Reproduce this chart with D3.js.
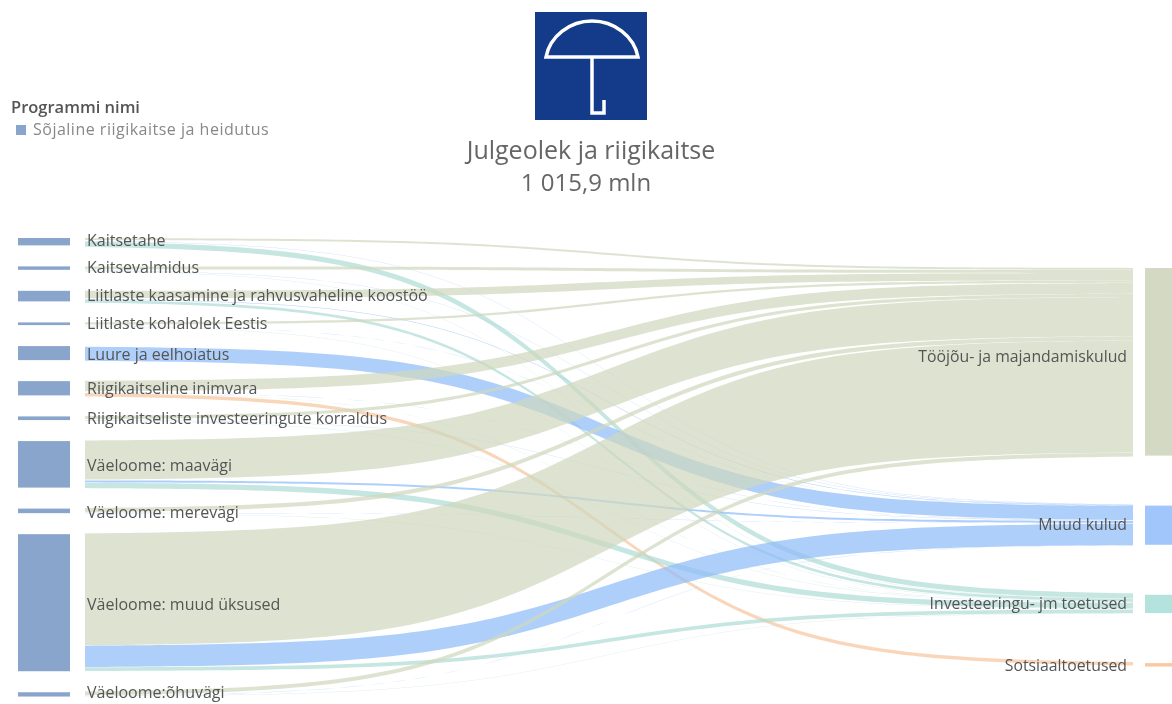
<!DOCTYPE html>
<html>
<head>
<meta charset="utf-8">
<script src="https://cdn.jsdelivr.net/npm/d3@7"></script>
<style>
  html, body { margin: 0; background: #fff; overflow: hidden; }
  text { font-family: "Open Sans", Lato, sans-serif; }
  svg { filter: blur(0.5px); }
</style>
</head>
<body>
<div id="chart"></div>
<script>
const width = 1172
const height = 704

// programmes (left side), top to bottom
const programmes = [
  "Kaitsetahe", "Kaitsevalmidus", "Liitlaste kaasamine ja rahvusvaheline koostöö",
  "Liitlaste kohalolek Eestis", "Luure ja eelhoiatus", "Riigikaitseline inimvara",
  "Riigikaitseliste investeeringute korraldus", "Väeloome: maavägi",
  "Väeloome: merevägi", "Väeloome: muud üksused", "Väeloome:õhuvägi"
]

// cost types (right side)
const costTypes = ["Tööjõu- ja majandamiskulud", "Muud kulud", "Investeeringu- jm toetused", "Sotsiaaltoetused"]

// mln per programme, same order as programmes
const tooloju = [8, 12, 30, 9.4, 0, 43, 13, 159, 17, 455, 16]
const muudKulud = [1, 1, 2, 0.5, 57, 0.5, 1, 8, 0.6, 87, 0.5]
const toetused = [21, 1, 11, 1, 0, 0.5, 1, 22, 1, 15, 1]
const sotsiaal = [0, 0, 0, 0, 0, 14, 0, 0, 0, 0, 0]
const costValues = [tooloju, muudKulud, toetused, sotsiaal]

const total = 1015.9
const legendTitle = "Programmi nimi"
const legendItem = "Sõjaline riigikaitse ja heidutus"
const title = "Julgeolek ja riigikaitse"
const subtitle = "1 015,9 mln"

const linkColors = ["#ced7bc", "#8dbaf9", "#aedbd4", "#f7c49d"]
const nodeColors = ["#d3d9c3", "#a0c6fb", "#b4e2dc", "#f8c9a2"]
const drawOrder = [3, 2, 1, 0]

// small label shifts, px
const leftNudge = [-1, -1, -1, 0, 1, 0, 0, 1, 2, 2, -1.5]
const rightNudge = [-5, -1, 0, 1]

const h = d3.scaleLinear().domain([0, total]).range([0, 250])
const leftPad = 21
const rightPad = 50
const linkX = d3.scaleLinear().domain([0, 1]).range([85, 1133])

const svg = d3.select("#chart").append("svg")
  .attr("width", width)
  .attr("height", height)
  .style("display", "block")

// stack the nodes with a fixed padding
let y = 238
const leftNodes = programmes.map((name, i) => {
  let value = d3.sum(costValues, c => c[i])
  let node = {name, value, y0: y, y1: y + h(value), index: i}
  y = node.y1 + leftPad
  return node
})

y = 268
const rightNodes = costTypes.map((name, j) => {
  let value = d3.sum(costValues[j])
  let node = {name, value, y0: y, y1: y + h(value), index: j}
  y = node.y1 + rightPad
  return node
})

// link offsets: inside a programme by cost type, inside a cost type by programme
let links = []
let leftUsed = leftNodes.map(d => d.y0)
rightNodes.forEach((target, j) => {
  let used = target.y0
  programmes.forEach((p, i) => {
    let value = costValues[j][i]
    if (value > 0) {
      links.push({cost: j, source: i, thick: h(value), a: leftUsed[i], b: used})
      leftUsed[i] += h(value)
      used += h(value)
    }
  })
})

// tableau style sigmoid between both ends
const sigmoid = t => 1 / (1 + Math.exp(-11 * (t - 0.5)))
const steps = d3.range(0, 1.0001, 0.01)

const ribbon = l => d3.area()
  .x(t => linkX(t))
  .y0(t => l.a + (l.b - l.a) * sigmoid(t))
  .y1(t => l.a + (l.b - l.a) * sigmoid(t) + l.thick)
  (steps)

drawOrder.forEach(j => {
  svg.append("g")
    .selectAll("path")
    .data(links.filter(l => l.cost == j))
    .enter()
    .append("path")
    .attr("d", ribbon)
    .attr("fill", linkColors[j])
    .attr("fill-opacity", 0.7)
})

svg.append("g")
  .selectAll("rect")
  .data(leftNodes)
  .enter()
  .append("rect")
  .attr("x", 18)
  .attr("width", 52)
  .attr("y", d => d.y0)
  .attr("height", d => d.y1 - d.y0)
  .attr("fill", "#8aa5cb")

svg.append("g")
  .selectAll("rect")
  .data(rightNodes)
  .enter()
  .append("rect")
  .attr("x", 1145)
  .attr("width", 27)
  .attr("y", d => d.y0)
  .attr("height", d => d.y1 - d.y0)
  .attr("fill", d => nodeColors[d.index])

svg.append("g")
  .selectAll("text")
  .data(leftNodes)
  .enter()
  .append("text")
  .attr("x", 87)
  .attr("y", d => (d.y0 + d.y1) / 2 + leftNudge[d.index])
  .attr("dy", "0.35em")
  .attr("font-size", 16)
  .attr("fill", "#555")
  .text(d => d.name)

svg.append("g")
  .selectAll("text")
  .data(rightNodes)
  .enter()
  .append("text")
  .attr("x", 1127)
  .attr("y", d => (d.y0 + d.y1) / 2 + rightNudge[d.index])
  .attr("dy", "0.35em")
  .attr("text-anchor", "end")
  .attr("font-size", 15.8)
  .attr("fill", "#555")
  .text(d => d.name)

// legend
svg.append("text")
  .attr("x", 11)
  .attr("y", 113)
  .attr("font-size", 16.5)
  .attr("font-weight", 600)
  .attr("fill", "#555")
  .text(legendTitle)

svg.append("rect")
  .attr("x", 16)
  .attr("y", 125)
  .attr("width", 10)
  .attr("height", 10)
  .attr("fill", "#8aa5cb")

svg.append("text")
  .attr("x", 33)
  .attr("y", 135)
  .attr("font-size", 16)
  .attr("letter-spacing", 0.5)
  .attr("fill", "#888")
  .text(legendItem)

// umbrella icon
const icon = svg.append("g")

icon.append("rect")
  .attr("x", 535)
  .attr("y", 12)
  .attr("width", 112)
  .attr("height", 108)
  .attr("fill", "#133b8a")

icon.append("path")
  .attr("d", "M546,57 C550,36 570,21 592,21 C614,21 634,36 638,57 Z M592,57 L592,113 L604,113 L604,100")
  .attr("fill", "none")
  .attr("stroke", "#fff")
  .attr("stroke-width", 3.5)

svg.append("text")
  .attr("x", 591)
  .attr("y", 159)
  .attr("text-anchor", "middle")
  .attr("font-size", 25)
  .attr("fill", "#666")
  .text(title)

svg.append("text")
  .attr("x", 586)
  .attr("y", 191)
  .attr("text-anchor", "middle")
  .attr("font-size", 24)
  .attr("fill", "#666")
  .text(subtitle)
</script>
</body>
</html>
